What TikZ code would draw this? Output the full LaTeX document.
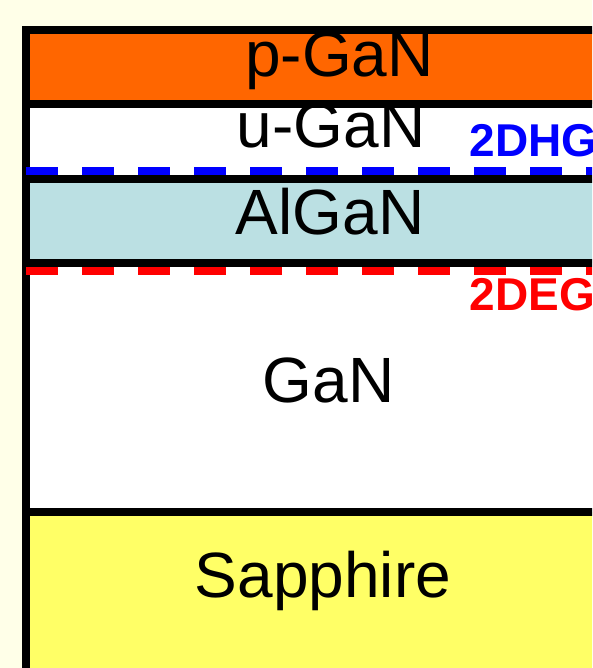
\documentclass[tikz,border=0pt]{standalone}
\usepackage{fontspec}
\setmainfont{Liberation Sans}
\definecolor{cream}{HTML}{FFFFE8}
\definecolor{pgancol}{HTML}{FF6600}
\definecolor{algancol}{HTML}{BBE0E3}
\definecolor{sapphcol}{HTML}{FFFF66}
\begin{document}
\begin{tikzpicture}[x=1pt,y=-1pt,
  border/.style={draw=black,line width=8pt,line join=miter},
  layername/.style={inner sep=0pt,anchor=base,font=\fontsize{64}{64}\selectfont},
  gaslabel/.style={inner sep=0pt,anchor=base west,font=\fontsize{46}{46}\selectfont\bfseries},
  gasline/.style={line width=8pt,dash pattern=on 32pt off 24pt}]
  % page and background
  \clip (0,0) rectangle (592,668);
  \fill[cream] (0,0) rectangle (592,668);

  % layer fills, top to bottom
  \fill[pgancol]  (26,30)  rectangle (640,104);
  \fill[white]    (26,104) rectangle (640,179);
  \fill[algancol] (26,179) rectangle (640,263);
  \fill[white]    (26,263) rectangle (640,512);
  \fill[sapphcol] (26,512) rectangle (640,700);

  % layer names
  \node[layername] (pgan)  at (339.5,77)  {p-GaN};
  \node[layername] (ugan)  at (331,148)   {u-GaN};
  \node[layername] (algan) at (330,234)   {AlGaN};
  \node[layername] (gan)   at (328.5,402) {GaN};
  \node[layername] (sapph) at (323,597)   {Sapphire};

  % layer borders
  \draw[border] (640,30) -- (26,30) -- (26,700);
  \draw[border] (26,104) -- (640,104);
  \draw[border] (26,179) -- (640,179);
  \draw[border] (26,263) -- (640,263);
  \draw[border] (26,512) -- (640,512);

  % two-dimensional carrier gases
  \coordinate (hgA) at (26,171.3);
  \coordinate (hgB) at (640,171.3);
  \coordinate (egA) at (26,271);
  \coordinate (egB) at (640,271);
  \draw[gasline,blue] (hgA) -- (hgB);
  \draw[gasline,red]  (egA) -- (egB);
  \node[gaslabel,text=blue] (hg) at (469.5,157) {2DHG};
  \node[gaslabel,text=red]  (eg) at (469.5,310) {2DEG};
\end{tikzpicture}
\end{document}
